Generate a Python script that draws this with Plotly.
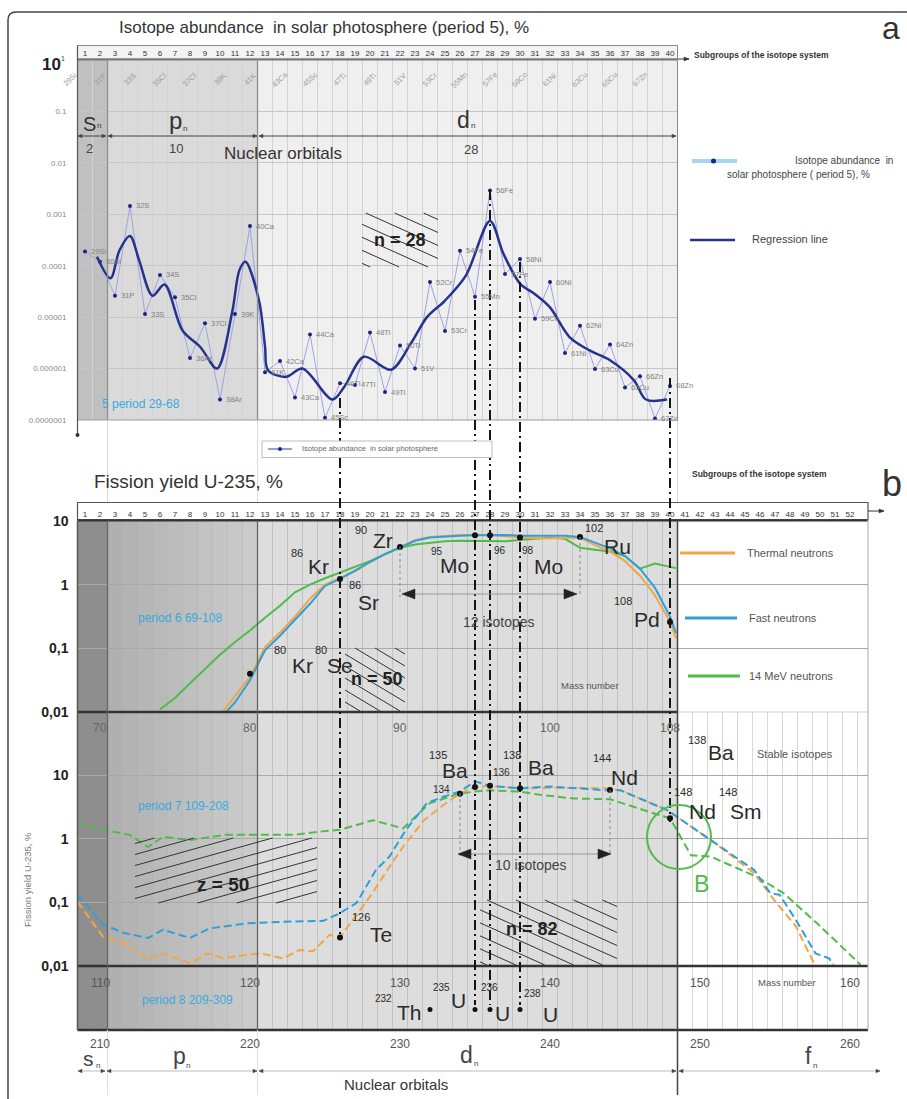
import math
import plotly.graph_objects as go

W, H = 907, 1099
FONT = "Liberation Sans, Arial, Helvetica, sans-serif"


def fx(px):
    return px / W


def fy(py):
    return 1 - py / H


# ---------------- panel a: isotope abundance in solar photosphere (period 5)
a_mass = list(range(29, 69))
a_names = ["29Si", "30Si", "31P", "32S", "33S", "34S", "35Cl", "36Ar", "37Cl", "38Ar",
           "39K", "40Ca", "41K", "42Ca", "43Ca", "44Ca", "45Sc", "46Ti", "47Ti", "48Ti",
           "49Ti", "50Ti", "51V", "52Cr", "53Cr", "54Fe", "55Mn", "56Fe", "57Fe", "58Ni",
           "59Co", "60Ni", "61Ni", "62Ni", "63Cu", "64Zn", "65Cu", "66Zn", "67Zn", "68Zn"]
a_abund = [1.9e-4, 1.2e-4, 2.6e-5, 1.45e-3, 1.15e-5, 6.6e-5, 2.45e-5, 1.6e-6, 7.6e-6, 2.5e-7,
           1.15e-5, 5.9e-4, 8.5e-7, 1.4e-6, 2.75e-7, 4.6e-6, 1.1e-7, 5.2e-7, 4.8e-7, 5.0e-6,
           3.5e-7, 2.8e-6, 1.0e-6, 4.8e-5, 5.4e-6, 1.95e-4, 2.5e-5, 2.9e-3, 6.9e-5, 1.35e-4,
           9.3e-6, 4.8e-5, 2.0e-6, 6.8e-6, 9.8e-7, 2.95e-6, 4.3e-7, 7.1e-7, 1.07e-7, 4.6e-7]
# odd isotopes written diagonally along the top of panel a
a_odd_names = ["29Si", "31P", "33S", "35Cl", "37Cl", "39K", "41K", "43Ca", "45Sc", "47Ti",
               "49Ti", "51V", "53Cr", "55Mn", "57Fe", "59Co", "61Ni", "63Cu", "65Cu", "67Zn"]
a_odd_mass = list(range(29, 69, 2))

# regression line (mass, abundance %)
reg_mass = [29.8, 30.7, 31.3, 32.0, 32.6, 33.5, 34.3, 35.5, 36.7, 37.8, 38.8, 39.3, 39.7,
            40.6, 41.0, 41.2, 42.4, 43.5, 45.5, 46.3, 47.6, 49.4, 50.7, 51.8, 53.0, 54.4,
            56.0, 56.9, 58.0, 59.0, 60.0, 61.3, 62.7, 64.0, 65.6, 66.4, 67.8]
reg_val = [1.5e-4, 5.7e-5, 2.0e-4, 3.8e-4, 1.3e-4, 2.6e-5, 4.3e-5, 5.5e-6, 2.6e-6, 1.0e-6,
           1.2e-5, 8.3e-5, 1.2e-4, 2.1e-5, 2.7e-6, 9.3e-7, 6.9e-7, 1.0e-6, 2.5e-7, 4.5e-7,
           1.7e-6, 9.5e-7, 3.0e-6, 1.0e-5, 2.1e-5, 6.5e-5, 7.4e-4, 1.7e-4, 4.5e-5, 2.8e-5,
           1.55e-5, 4.1e-6, 2.2e-6, 1.45e-6, 5.9e-7, 2.5e-7, 2.5e-7]

# ---------------- panel b: fission yield of U-235, period 6 (mass 69-108)
p6_mass = [78, 79, 80, 81, 82, 83, 84, 85, 86, 87, 88, 89, 90, 91, 92, 93, 94, 95, 96, 97,
           98, 99, 100, 101, 102, 103, 104, 105, 106, 107, 108, 108.4]
p6_thermal = [0.0089, 0.0174, 0.0355, 0.105, 0.178, 0.316, 0.603, 1.0, 1.26, 1.62, 2.24, 3.02,
              3.89, 5.01, 5.62, 5.89, 6.03, 6.03, 6.03, 5.75, 5.5, 5.37, 5.37, 5.5, 5.5, 4.17,
              3.31, 2.34, 1.38, 0.676, 0.263, 0.145]
p6_fast = [0.0079, 0.0141, 0.0316, 0.093, 0.158, 0.282, 0.501, 0.955, 1.23, 1.66, 2.29, 3.02,
           3.89, 4.9, 5.5, 5.75, 5.89, 5.96, 6.03, 6.03, 5.89, 5.89, 5.89, 5.89, 5.62, 4.57,
           3.72, 2.82, 1.78, 0.891, 0.316, 0.174]
p6_mass_14 = [74, 75, 76, 77, 78, 79, 80, 81, 82, 83, 84, 85, 86, 87, 88, 89, 90, 91, 92,
              93, 94, 95, 96, 97, 98, 99, 100, 101, 102, 103, 104, 105, 106, 107, 108, 108.4]
p6_14mev = [0.011, 0.0166, 0.0282, 0.0479, 0.0794, 0.126, 0.191, 0.302, 0.468, 0.759, 1.0,
            1.26, 1.55, 1.91, 2.34, 3.02, 3.8, 4.27, 4.57, 4.79, 4.9, 4.9, 4.9, 4.79, 5.01,
            5.25, 5.5, 5.25, 3.8, 3.55, 3.31, 2.82, 1.78, 2.14, 1.91, 1.82]
p6_iso_mass = [80, 86, 90, 95, 96, 98, 102, 108]
p6_iso_yield = [0.04, 1.23, 3.9, 5.96, 5.96, 5.5, 5.6, 0.26]

# ---------------- period 7 (mass 109-208)
p7_mass_th = [108.5, 110.2, 111.6, 113.2, 114.2, 116.0, 117.2, 118.2, 119.6, 120.7, 122.2,
              123.3, 124.2, 125.3, 126.0, 126.7, 128.0, 129.3, 130.2, 131.6, 132.9, 134.0,
              135.0, 136.0, 138.0, 140.0, 143.8, 144.7, 147.8, 150.9, 153.6, 155.1, 156.4,
              157.6]
p7_thermal = [0.102, 0.0288, 0.0229, 0.0126, 0.0158, 0.011, 0.0158, 0.0132, 0.0148, 0.0158,
              0.0132, 0.0178, 0.017, 0.0309, 0.0282, 0.0468, 0.123, 0.363, 0.741, 1.95, 3.39,
              5.13, 6.46, 6.76, 6.17, 6.31, 6.17, 5.75, 2.82, 0.891, 0.288, 0.0977, 0.0417,
              0.011]
p7_mass_fast = [108.5, 110.2, 111.6, 113.2, 114.2, 116.0, 117.3, 119.8, 122.9, 124.9, 126.0,
                127.1, 128.4, 129.3, 130.4, 131.8, 132.9, 134.0, 135.0, 136.0, 138.0, 140.0,
                143.8, 144.7, 147.8, 150.9, 153.6, 154.7, 155.3, 156.4, 157.7, 158.6, 158.9]
p7_fast = [0.132, 0.0447, 0.0331, 0.0275, 0.0372, 0.0275, 0.0389, 0.0468, 0.0501, 0.0513,
           0.0676, 0.0977, 0.324, 0.525, 1.38, 3.63, 4.57, 5.5, 7.94, 6.76, 6.17, 6.61, 5.75,
           5.75, 2.82, 0.891, 0.324, 0.138, 0.132, 0.0525, 0.0158, 0.0132, 0.0105]
p7_mass_14 = [108.5, 110.2, 112.0, 113.2, 114.2, 116.0, 118.4, 122.9, 124.7, 126.0, 128.2,
              130.2, 132.0, 134.0, 135.0, 136.0, 138.0, 139.3, 141.6, 144.0, 146.9, 148.0,
              149.4, 150.7, 153.8, 155.6, 157.8, 160.7]
p7_14mev = [1.74, 1.38, 1.15, 0.741, 1.07, 0.955, 1.15, 1.15, 1.29, 1.38, 1.95, 1.45, 3.63,
            5.13, 5.5, 5.75, 5.5, 4.9, 4.27, 4.17, 2.51, 2.09, 0.55, 0.525, 0.251, 0.138,
            0.0468, 0.0105]
p7_iso_mass = [126, 134, 135, 136, 138, 144, 148]
p7_iso_yield = [0.028, 5.1, 6.5, 6.8, 6.2, 5.8, 2.1]

# ---------------- period 8 (mass 209-309): heavy nuclides marked in the lowest band
p8_iso_mass = [232, 235, 236, 238]

# tick masses written inside the panels
p6_ticks = [70, 80, 90, 100, 108]
p7_ticks = [110, 120, 130, 140, 150, 160]
p8_ticks = [210, 220, 230, 240, 250, 260]

# column offsets: column n of the isotope system holds mass (offset + n)
OFF5, OFF6, OFF7, OFF8 = 28, 68, 108, 208
X0_PX, COL_PX = 77.5, 15.0      # left edge of column 1 and column width in pixels

ORANGE = "#f2a546"
BLUE = "#2e9fd9"
GREEN = "#4fbb4a"
NAVY = "#25338d"
CYAN = "#38a9de"

fig = go.Figure()

# ---- traces, panel a
fig.add_trace(go.Scatter(
    x=[m - OFF5 for m in a_mass], y=a_abund, mode="lines+markers",
    line=dict(color="#9ea2e2", width=1), marker=dict(color="#1b2482", size=4),
    xaxis="x", yaxis="y", hoverinfo="skip"))
fig.add_trace(go.Scatter(
    x=[m - OFF5 for m in reg_mass], y=reg_val, mode="lines",
    line=dict(color=NAVY, width=2.5, shape="spline", smoothing=0.9),
    xaxis="x", yaxis="y", hoverinfo="skip"))

# ---- traces, period 6
for xs, ys, col in [(p6_mass_14, p6_14mev, GREEN), (p6_mass, p6_thermal, ORANGE),
                    (p6_mass, p6_fast, BLUE)]:
    fig.add_trace(go.Scatter(x=[m - OFF6 for m in xs], y=ys, mode="lines",
                             line=dict(color=col, width=2), xaxis="x2", yaxis="y2",
                             hoverinfo="skip"))
fig.add_trace(go.Scatter(x=[m - OFF6 for m in p6_iso_mass], y=p6_iso_yield, mode="markers",
                         marker=dict(color="#111", size=6), xaxis="x2", yaxis="y2",
                         hoverinfo="skip"))

# ---- traces, period 7
for xs, ys, col in [(p7_mass_14, p7_14mev, GREEN), (p7_mass_th, p7_thermal, ORANGE),
                    (p7_mass_fast, p7_fast, BLUE)]:
    fig.add_trace(go.Scatter(x=[m - OFF7 for m in xs], y=ys, mode="lines",
                             line=dict(color=col, width=2, dash="8px,4px"),
                             xaxis="x3", yaxis="y3", hoverinfo="skip"))
fig.add_trace(go.Scatter(x=[m - OFF7 for m in p7_iso_mass], y=p7_iso_yield, mode="markers",
                         marker=dict(color="#111", size=6), xaxis="x3", yaxis="y3",
                         hoverinfo="skip"))

# ---- period 8 markers
fig.add_trace(go.Scatter(x=[m - OFF8 for m in p8_iso_mass], y=[0.32] * len(p8_iso_mass),
                         mode="markers", marker=dict(color="#111", size=5),
                         xaxis="x4", yaxis="y4", hoverinfo="skip"))

shapes = []
annotations = []


def line_px(x0, y0, x1, y1, color="#333", width=1, dash="solid", layer="above"):
    shapes.append(dict(type="line", xref="paper", yref="paper", x0=fx(x0), y0=fy(y0),
                       x1=fx(x1), y1=fy(y1), layer=layer,
                       line=dict(color=color, width=width, dash=dash)))


def rect_px(x0, y0, x1, y1, fill=None, color="#333", width=1, layer="above"):
    shapes.append(dict(type="rect", xref="paper", yref="paper", x0=fx(x0), y0=fy(y0),
                       x1=fx(x1), y1=fy(y1), layer=layer, fillcolor=fill or "rgba(0,0,0,0)",
                       line=dict(color=color, width=width)))


def tri_px(x, y, direction, length, half, color):
    """Filled arrow head with its tip at (x, y), pointing left (-1) or right (+1)."""
    bx = x - direction * length
    path = "M %f,%f L %f,%f L %f,%f Z" % (fx(x), fy(y), fx(bx), fy(y - half),
                                          fx(bx), fy(y + half))
    shapes.append(dict(type="path", xref="paper", yref="paper", path=path,
                       fillcolor=color, line=dict(color=color, width=0.5)))


def arrow_px(x0, x1, y, color="#555", width=1, length=5, half=2, both=True, line_color=None):
    line_px(x0, y, x1, y, line_color or color, width)
    tri_px(x1, y, 1, length, half, color)
    if both:
        tri_px(x0, y, -1, length, half, color)


def band(xref, yref, c0, c1, fill):
    shapes.append(dict(type="rect", xref=xref, yref=yref + " domain", x0=c0, x1=c1, y0=0, y1=1,
                       fillcolor=fill, line=dict(width=0), layer="below"))


def text(s, x, y, size=11, color="#333", xanchor="center", yanchor="middle", angle=0,
         xref="paper", yref="paper", bold=False):
    annotations.append(dict(
        text=s, x=fx(x) if xref == "paper" else x, y=fy(y) if yref == "paper" else y,
        xref=xref, yref=yref, showarrow=False, xanchor=xanchor, yanchor=yanchor,
        textangle=angle,
        font=dict(family=FONT, size=size, color=color,
                  weight="bold" if bold else "normal")))


def orbital(letter, x, y, size, sx, sy, color="#333"):
    """Orbital letter with a small subscript n."""
    text(letter, x, y, size, color, xanchor="left")
    text("n", sx, sy, 8, color)


def hatch(x0, y0, x1, y1, slope, step, color="#333", width=1):
    lo = min(y0, y0 - slope * (x1 - x0))
    hi = max(y1, y1 - slope * (x1 - x0))
    c = lo + step / 2
    while c < hi:
        xa, xb = x0 + (y0 - c) / slope, x0 + (y1 - c) / slope
        xs, xe = max(x0, min(xa, xb)), min(x1, max(xa, xb))
        if xe - xs > 2:
            line_px(xs, c + slope * (xs - x0), xe, c + slope * (xe - x0), color, width)
        c += step


# ---- background bands
band("x", "y", 0.5, 2.5, "#c0c0c0")
band("x", "y", 2.5, 12.5, "#dadada")
band("x", "y", 12.5, 40.5, "#efefef")
p_shades = ["#b0b0b0", "#b3b3b3", "#b6b6b6", "#b9b9b9", "#bcbcbc", "#bfbfbf", "#c2c2c2",
            "#c5c5c5", "#c8c8c8", "#cbcbcb"]
for yr in ["y2", "y3", "y4"]:
    xr = {"y2": "x2", "y3": "x3", "y4": "x4"}[yr]
    band(xr, yr, 0.5, 2.5, "#8e8e8e")
    for i, sh in enumerate(p_shades):
        band(xr, yr, 2.5 + i, 3.5 + i, sh)
    band(xr, yr, 12.5, 40.5, "#dddddd")

# ---- frame of the figure
shapes.append(dict(type="path", xref="paper", yref="paper",
                   path="M %f,%f L %f,%f Q %f,%f %f,%f L %f,%f" % (
                       fx(8), fy(1099), fx(8), fy(20), fx(8), fy(12), fx(16), fy(12),
                       fx(907), fy(12)),
                   line=dict(color="#444", width=1.5)))

# ---- strips with subgroup numbers
rect_px(77.5, 45.5, 677.5, 59, fill="#f3f3f3", color="#8a8a8a", width=1, layer="below")
rect_px(77.5, 502.5, 868, 519.5, fill="#ffffff", color="#555", width=1.2, layer="below")
arrow_px(677.5, 689, 59, color="#333", length=5, half=2, both=False)
arrow_px(868, 884, 511, color="#333", length=5, half=2, both=False)

# ---- panel borders and dividers
line_px(77.5, 59.5, 677.5, 59.5, "#777", 2)
line_px(77.5, 420, 677.5, 420, "#9a9a9a", 1)
line_px(77.5, 45.5, 77.5, 436, "#555", 1.2)
line_px(677.5, 45.5, 677.5, 420, "#888", 1)
line_px(107.5, 59.5, 107.5, 420, "#8f8f8f", 1.3)
line_px(257.5, 59.5, 257.5, 420, "#8f8f8f", 1.3)
for xp in (107.5, 257.5, 677.5):
    line_px(xp, 420, xp, 502, "#d9d9d9", 1)
shapes.append(dict(type="circle", xref="paper", yref="paper", x0=fx(75.5), x1=fx(79.5),
                   y0=fy(437), y1=fy(433), fillcolor="#333", line=dict(width=0)))

line_px(77.5, 520.5, 868, 520.5, "#333", 2)
line_px(77.5, 712, 677.5, 712, "#333", 2.5)
line_px(677.5, 712, 868, 712, "#cfcfcf", 1)
line_px(77.5, 966, 868, 966, "#333", 2.5)
line_px(77.5, 1030, 868, 1030, "#333", 2.5)
line_px(77.5, 520.5, 77.5, 1030, "#555", 1.5)
line_px(107.5, 520.5, 107.5, 1030, "#666", 1.3)
line_px(257.5, 520.5, 257.5, 1030, "#666", 1.3)
line_px(677.5, 520.5, 677.5, 1095, "#444", 1.5)
line_px(868, 519.5, 868, 1030, "#aaa", 1)
line_px(107.5, 1030, 107.5, 1095, "#e0e0e0", 1)
line_px(257.5, 1030, 257.5, 1095, "#e0e0e0", 1)

# ---- hatched zones
hatch(362, 213, 438, 267, 0.45, 13)
hatch(345, 648, 405, 711, 0.6, 12)
hatch(135, 838, 317, 903, -0.28, 11)
hatch(480, 900, 617, 965, 0.45, 13)

# ---- dash-dot links between isotopes of the same subgroup
for m, top, bot in [(86, 398, 940), (95, 300, 1005), (96, 190, 1005), (98, 262, 1005),
                    (108, 378, 822)]:
    shapes.append(dict(type="line", xref="x2", yref="paper", x0=m - OFF6, x1=m - OFF6,
                       y0=fy(top), y1=fy(bot),
                       line=dict(color="#151515", width=2, dash="10px,4px,2px,4px")))

# thin dotted drops marking the isotope ranges
for m, top, bot in [(90, 547, 597), (102, 537, 597)]:
    shapes.append(dict(type="line", xref="x2", yref="paper", x0=m - OFF6, x1=m - OFF6,
                       y0=fy(top), y1=fy(bot), line=dict(color="#888", width=1, dash="dot")))
for m, top, bot in [(134, 793, 856), (144, 790, 856)]:
    shapes.append(dict(type="line", xref="x3", yref="paper", x0=m - OFF7, x1=m - OFF7,
                       y0=fy(top), y1=fy(bot), line=dict(color="#888", width=1, dash="dot")))

# ---- region B circle
shapes.append(dict(type="circle", xref="paper", yref="paper", x0=fx(647), x1=fx(711),
                   y0=fy(869), y1=fy(805), line=dict(color=GREEN, width=2)))

# ---- legends drawn by hand
line_px(692, 161, 737, 161, "#a8d6ee", 4)
shapes.append(dict(type="circle", xref="paper", yref="paper", x0=fx(711), x1=fx(716),
                   y0=fy(163.5), y1=fy(158.5), fillcolor="#1b2482", line=dict(width=0)))
text("Isotope abundance  in", 895, 160, 10, "#444", xanchor="right")
text("solar photosphere ( period 5), %", 798, 175, 10, "#444")
line_px(690, 240, 735, 240, NAVY, 2.5)
text("Regression line", 750, 239, 11, "#444", xanchor="left")

rect_px(262, 441, 492, 457.5, fill="#ffffff", color="#bdbdbd", width=1)
line_px(268, 449, 292, 449, "#3340a0", 1)
shapes.append(dict(type="circle", xref="paper", yref="paper", x0=fx(278), x1=fx(282),
                   y0=fy(451), y1=fy(447), fillcolor="#1b2482", line=dict(width=0)))
text("Isotope abundance  in solar photosphere", 300, 449, 7.5, "#666", xanchor="left")

line_px(680, 553, 735, 553, ORANGE, 3)
text("Thermal neutrons", 745, 553, 11, "#555", xanchor="left")
line_px(685, 618, 737, 618, BLUE, 3)
text("Fast neutrons", 747, 618, 11, "#555", xanchor="left")
line_px(688, 676, 740, 676, GREEN, 3)
text("14 MeV neutrons", 747, 676, 11, "#555", xanchor="left")

# ---- headings
text("Isotope abundance  in solar photosphere (period 5), %", 117, 27, 17, "#333",
     xanchor="left")
text("a", 891, 28, 32, "#333")
text("Subgroups of the isotope system", 692, 55, 8.5, "#333", xanchor="left", bold=True)
text("Fission yield U-235, %", 92, 481, 19, "#333", xanchor="left")
text("b", 892, 484, 36, "#333")
text("Subgroups of the isotope system", 690, 474, 8.5, "#333", xanchor="left", bold=True)
text("10", 51, 64, 17, "#222", bold=True)
text("1", 63, 59, 7, "#444")
text("Fission yield U-235, %", 27, 880, 9.5, "#777", angle=-90)

# ---- panel a inner texts
orbital("S", 81, 124, 20, 99, 126)
orbital("p", 167, 120, 24, 185, 129)
orbital("d", 455, 120, 23, 473, 126)
text("2", 89, 148, 13, "#444")
text("10", 176, 148, 13, "#444")
text("28", 471, 150, 13, "#444")
text("Nuclear orbitals", 283, 153, 17, "#333")
arrow_px(78, 106, 136, color="#444", length=4, half=1.8)
arrow_px(108, 257, 136, color="#444", length=4, half=1.8)
arrow_px(259, 676, 136, color="#444", length=4, half=1.8)
text("n = 28", 400, 240, 18, "#222", bold=True)
text("5 period 29-68", 141, 404, 12, CYAN)

for nm, m in zip(a_odd_names, a_odd_mass):
    col = m - OFF5 - 1
    text(nm, X0_PX + (col - 0.5) * COL_PX, 80, 7.5, "#9c9c9c", angle=-45)
for nm, m, v in zip(a_names, a_mass, a_abund):
    annotations.append(dict(
        text=nm, x=m - OFF5, y=math.log10(v), xref="x", yref="y", showarrow=False,
        xanchor="left", xshift=4, font=dict(family=FONT, size=7.5, color="#808080")))

# ---- period 6 texts
for s, x, y, sz in [("90", 361, 530, 11), ("Zr", 383, 540, 21), ("86", 297, 553, 11),
                    ("Kr", 318, 566, 21), ("86", 355, 585, 11), ("Sr", 368, 602, 21),
                    ("95", 437, 551, 10), ("Mo", 455, 565, 21), ("96", 500, 550, 10),
                    ("98", 528, 550, 10), ("Mo", 548, 566, 21), ("102", 594, 528, 11),
                    ("Ru", 617, 546, 21), ("108", 623, 601, 11), ("Pd", 647, 619, 21),
                    ("80", 280, 650, 11), ("Kr", 302, 665, 21), ("80", 321, 650, 11),
                    ("Se", 340, 665, 21)]:
    text(s, x, y, sz, "#2a2a2a")
text("period 6 69-108", 180, 618, 12, CYAN)
text("12 isotopes", 499, 622, 14, "#444")
arrow_px(402, 577, 594, color="#222", length=13, half=5, line_color="#999")
text("n = 50", 377, 679, 18, "#222", bold=True)
text("Mass number", 590, 685, 9.5, "#555")
for m in p6_ticks:
    text(str(m), m - OFF6, 728, 12, "#666", xref="x2")

# ---- period 7 texts
for s, x, y, sz in [("135", 438, 755, 11), ("Ba", 455, 770, 21), ("134", 441, 789, 10),
                    ("136", 501, 772, 10), ("138", 512, 755, 11), ("Ba", 541, 767, 21),
                    ("144", 602, 758, 11), ("Nd", 624, 777, 21), ("138", 697, 740, 11),
                    ("Ba", 721, 752, 21), ("148", 683, 792, 11), ("Nd", 702, 812, 21),
                    ("148", 728, 792, 11), ("Sm", 746, 812, 21), ("126", 361, 917, 11),
                    ("Te", 381, 934, 21)]:
    text(s, x, y, sz, "#2a2a2a")
text("Stable isotopes", 795, 754, 11, "#555")
text("period 7 109-208", 183, 806, 12, CYAN)
text("10 isotopes", 531, 865, 14, "#444")
arrow_px(458, 611, 854, color="#222", length=13, half=5, line_color="#999")
text("z = 50", 223, 884, 19, "#222", bold=True)
text("n = 82", 532, 929, 18, "#222", bold=True)
text("B", 701, 884, 23, GREEN)

# ---- period 8 band texts
for m in p7_ticks:
    text(str(m), m - OFF7, 983, 12, "#555", xref="x3")
text("Mass number", 787, 982, 9.5, "#555")
text("period 8 209-309", 187, 1000, 12, CYAN)
for s, x, y, sz in [("232", 383, 998, 10), ("Th", 409, 1012, 21), ("235", 441, 987, 10),
                    ("U", 458, 1000, 21), ("236", 489, 987, 10), ("U", 503, 1013, 21),
                    ("238", 532, 993, 10), ("U", 550, 1014, 21)]:
    text(s, x, y, sz, "#2a2a2a")

# ---- axis below panel b
for m in p8_ticks:
    text(str(m), m - OFF8, 1044, 12, "#555", xref="x4")
orbital("s", 81, 1058, 21, 98, 1065, "#444")
orbital("p", 171, 1056, 23, 188, 1065, "#444")
orbital("d", 458, 1055, 23, 476, 1063, "#444")
orbital("f", 803, 1056, 23, 815, 1065, "#444")
arrow_px(78, 105, 1071, color="#444", length=4, half=1.8, line_color="#bbb")
arrow_px(107, 257, 1071, color="#444", length=4, half=1.8, line_color="#bbb")
arrow_px(259, 676, 1071, color="#444", length=4, half=1.8, line_color="#bbb")
arrow_px(679, 880, 1071, color="#444", length=4, half=1.8, line_color="#bbb")
text("Nuclear orbitals", 396, 1084, 15, "#333")

# ---- axes
GRID_V = "rgba(140,140,140,0.35)"
common_x = dict(zeroline=False, showline=False, showgrid=False, fixedrange=True, ticks="",
                automargin=False)
common_y = dict(zeroline=False, showline=False, ticks="", fixedrange=True, automargin=False)
yield_ticks = dict(tickmode="array", tickvals=[10, 1, 0.1, 0.01],
                   ticktext=["10", "1", "0,1", "0,01"],
                   tickfont=dict(size=14, color="#222", weight="bold"), ticklabelstandoff=8,
                   showgrid=True, gridcolor="#a9a9a9")
fig.update_layout(
    width=W, height=H, margin=dict(l=0, r=0, t=0, b=0, pad=0, autoexpand=False),
    paper_bgcolor="white", plot_bgcolor="white", showlegend=False,
    font=dict(family=FONT),
    shapes=shapes, annotations=annotations,
    xaxis=dict(domain=[fx(77.5), fx(677.5)], range=[0.5, 40.5], anchor="y", side="top",
               tickmode="array", tickvals=list(range(1, 41)),
               ticktext=[str(i) for i in range(1, 41)],
               tickfont=dict(size=8, color="#333"), ticklabelstandoff=1,
               minor=dict(tickmode="array", tickvals=[i + 0.5 for i in range(41)],
                          showgrid=True, gridcolor="#d3d3d3", gridwidth=1, ticks=""),
               **common_x),
    yaxis=dict(domain=[fy(420), fy(60)], type="log", range=[-7, 0], anchor="x",
               tickmode="array", tickvals=[10.0 ** -k for k in range(1, 8)],
               ticktext=["0.1", "0.01", "0.001", "0.0001", "0.00001", "0.000001",
                         "0.0000001"],
               tickfont=dict(size=8, color="#8a8a8a"), ticklabelstandoff=10,
               showgrid=True, gridcolor="#c6c6c6", **common_y),
    xaxis2=dict(domain=[fx(77.5), fx(868)], range=[0.5, 53.2], anchor="y2", side="top",
                tickmode="array", tickvals=list(range(1, 53)),
                ticktext=[str(i) for i in range(1, 53)],
                tickfont=dict(size=8, color="#333"), ticklabelstandoff=1,
                minor=dict(tickmode="array", tickvals=[i + 0.5 for i in range(41)],
                           showgrid=True, gridcolor=GRID_V, gridwidth=1, ticks=""),
                **common_x),
    yaxis2=dict(domain=[fy(712), fy(521)], type="log", range=[-2, 1], anchor="x2",
                **yield_ticks, **common_y),
    xaxis3=dict(domain=[fx(77.5), fx(868)], range=[0.5, 53.2], anchor="y3",
                showticklabels=False,
                minor=dict(tickmode="array", tickvals=[i + 0.5 for i in range(53)],
                           showgrid=True, gridcolor=GRID_V, gridwidth=1, ticks=""),
                **common_x),
    yaxis3=dict(domain=[fy(966), fy(712)], type="log", range=[-2, 1.99], anchor="x3",
                **yield_ticks, **common_y),
    xaxis4=dict(domain=[fx(77.5), fx(868)], range=[0.5, 53.2], anchor="y4",
                showticklabels=False,
                minor=dict(tickmode="array", tickvals=[i + 0.5 for i in range(53)],
                           showgrid=True, gridcolor=GRID_V, gridwidth=1, ticks=""),
                **common_x),
    yaxis4=dict(domain=[fy(1030), fy(966)], range=[0, 1], anchor="x4",
                showticklabels=False, showgrid=False, **common_y),
)

fig.write_html("out.html")
